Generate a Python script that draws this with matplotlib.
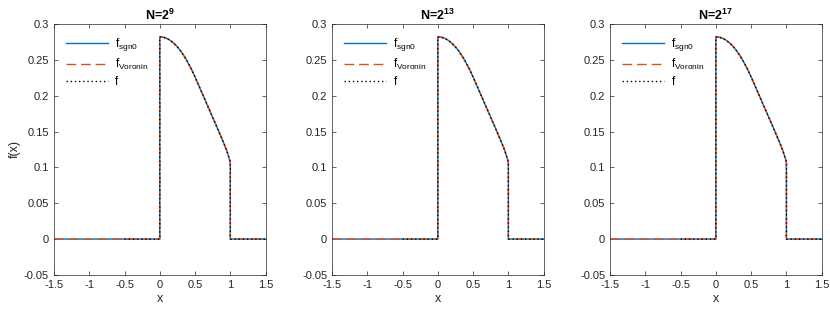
import matplotlib
matplotlib.use("Agg")
import matplotlib.pyplot as plt
import numpy as np

plt.rcParams['font.family'] = ['Liberation Sans', 'DejaVu Sans']
plt.rcParams['mathtext.fontset'] = 'custom'
plt.rcParams['mathtext.rm'] = 'Liberation Sans'
plt.rcParams['mathtext.bf'] = 'Liberation Sans:bold'
plt.rcParams['mathtext.default'] = 'regular'

x_in = [0.0, 0.05, 0.1, 0.15, 0.2, 0.25, 0.3, 0.35, 0.4, 0.45, 0.5,
        0.55, 0.6, 0.65, 0.7, 0.75, 0.8, 0.85, 0.9, 0.95, 1.0]
f_in = [0.282, 0.2815, 0.2798, 0.2770, 0.2730, 0.2680, 0.2618, 0.2544,
        0.2460, 0.2366, 0.2260, 0.2148, 0.2035, 0.1922, 0.1810, 0.1697,
        0.1585, 0.1470, 0.1355, 0.1232, 0.1075]

titles = ['9', '13', '17']
# x range of the estimates and of the exact f
est_range = (-1.5, 1.5)
f_range = (-0.5, 1.5)

blue = '#0072BD'
orange = '#D95319'


def step_curve(lo, hi):
    xs = [lo, x_in[0]] + x_in + [x_in[-1], hi]
    ys = [0, 0] + f_in + [0, 0]
    return xs, ys


lefts = [0.065, 0.400, 0.735]
fig = plt.figure(figsize=(8.3, 3.11), dpi=100)
for k in range(3):
    ax = fig.add_axes([lefts[k], 0.116, 0.255, 0.807])
    xe, ye = step_curve(*est_range)
    xf, yf = step_curve(*f_range)
    ax.plot(xe, ye, color=blue, lw=1.0, label=r'$f_{sgn0}$')
    ax.plot(xe, ye, color=orange, lw=1.0, ls=(0, (7, 3.5)), label=r'$f_{Voronin}$')
    ax.plot(xf, yf, color='black', lw=1.0, ls=(0, (1, 2)), label='f')
    ax.set_xlim(-1.5, 1.5)
    ax.set_ylim(-0.05, 0.3)
    ax.set_xticks(np.arange(-1.5, 1.51, 0.5))
    ax.set_xticklabels(['-1.5', '-1', '-0.5', '0', '0.5', '1', '1.5'])
    ax.set_yticks(np.arange(-0.05, 0.301, 0.05))
    ax.set_yticklabels(['-0.05', '0', '0.05', '0.1', '0.15', '0.2', '0.25', '0.3'])
    ax.tick_params(direction='in', top=True, right=True, labelsize=8,
                   length=3, width=0.5, colors='#262626', labelcolor='#262626')
    for s in ax.spines.values():
        s.set_color('#262626')
        s.set_linewidth(0.5)
    ax.set_xlabel('x', fontsize=9, color='#262626', labelpad=2)
    if k == 0:
        ax.set_ylabel('f(x)', fontsize=9, color='#262626', labelpad=2)
    ax.set_title('N=2$^{\\mathbf{' + titles[k] + '}}$', fontsize=9,
                 fontweight='bold', pad=3)
    ax.legend(loc='upper left', frameon=False, fontsize=8.5, handlelength=3.6,
              borderaxespad=0.6, labelspacing=0.35, handletextpad=0.6)

fig.savefig('out.png', dpi=100)
